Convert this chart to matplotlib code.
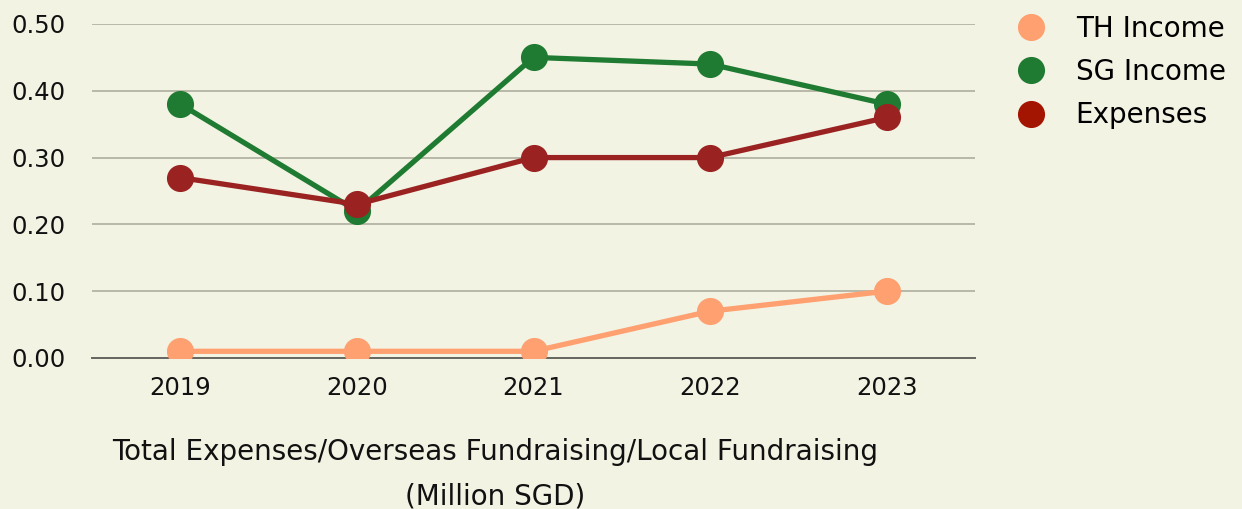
import matplotlib
matplotlib.use('Agg')
from matplotlib import pyplot as plt
from matplotlib.lines import Line2D

plt.rcParams['font.family'] = ['DejaVu Sans']

years = ['2019', '2020', '2021', '2022', '2023']
th_income = [0.01, 0.01, 0.01, 0.07, 0.10]
sg_income = [0.38, 0.22, 0.45, 0.44, 0.38]
expenses = [0.27, 0.23, 0.30, 0.30, 0.36]
yticks = [0.0, 0.1, 0.2, 0.3, 0.4, 0.5]

bg = '#F3F3E4'
c_th = '#FFA070'
c_sg = '#1F7B31'
c_ex = '#9A2322'
c_ex_leg = '#A31500'
fs_tick = 17.5
fs_text = 20

fig = plt.figure(figsize=(12.42, 5.09), dpi=100, facecolor=bg)
ax = fig.add_axes([0.0741, 0.2967, 0.7109, 0.6562], facecolor=bg)

x = range(len(years))
ax.plot(x, th_income, color=c_th, lw=3.8, marker='o', ms=18.5, zorder=3)
ax.plot(x, sg_income, color=c_sg, lw=3.8, marker='o', ms=18.5, zorder=4)
ax.plot(x, expenses, color=c_ex, lw=3.8, marker='o', ms=18.5, zorder=5)

ax.set_xlim(-0.5, 4.5)
ax.set_ylim(0, 0.5)
ax.set_xticks(list(x))
ax.set_xticklabels(years)
ax.set_yticks(yticks)
ax.set_yticklabels([f'{v:.2f}' for v in yticks])
ax.tick_params(length=0, labelsize=fs_tick, colors='#111111')
ax.tick_params(axis='y', pad=19)
ax.tick_params(axis='x', pad=13)
ax.grid(axis='y', color='#B8B8A8', lw=1.4, zorder=0)
ax.set_axisbelow(True)
for s in ['top', 'right', 'left']:
    ax.spines[s].set_visible(False)
ax.spines['bottom'].set_color('#666660')
ax.spines['bottom'].set_linewidth(1.4)
ax.spines['bottom'].set_zorder(1)

handles = [Line2D([], [], ls='', marker='o', ms=18.5, color=c) for c in (c_th, c_sg, c_ex_leg)]
fig.legend(handles, ['TH Income', 'SG Income', 'Expenses'], loc='upper left',
           bbox_to_anchor=(0.799, 1.02), frameon=False, fontsize=fs_text,
           handletextpad=1.1, labelspacing=0.55, handlelength=1.0)

fig.text(495 / 1242, 1 - 452 / 509, 'Total Expenses/Overseas Fundraising/Local Fundraising',
         ha='center', va='center', fontsize=fs_text, color='#111111')
fig.text(495 / 1242, 1 - 496 / 509, '(Million SGD)',
         ha='center', va='center', fontsize=fs_text, color='#111111')

fig.savefig('out.png', dpi=100, facecolor=bg)
